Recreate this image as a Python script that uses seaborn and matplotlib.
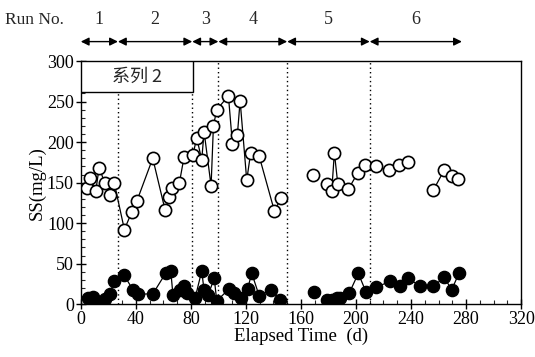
import numpy as np
import pandas as pd
import matplotlib
matplotlib.use("Agg")
import matplotlib.pyplot as plt
from matplotlib.patches import Rectangle
from matplotlib.ticker import MultipleLocator
import seaborn as sns

# ---------------- data ----------------
open_day = [4.4, 6.8, 10.9, 13.3, 17.7, 21.2, 24.4, 31.7, 37.1, 40.7, 52.3, 61.3, 64.4, 66.6,
            71.7, 75.1, 81.4, 84.3, 87.9, 89.6, 94.7, 96.4, 98.8, 107.3, 110.2, 113.8, 115.8,
            120.6, 123.5, 129.6, 140.7, 145.6,
            169.0,
            178.8, 182.4, 184.3, 186.8, 194.5, 201.3, 206.6, 214.6, 224.0, 231.5, 238.1,
            256.3, 264.0, 269.6, 274.4]
open_ss = [143, 156, 140, 168, 149, 135, 149, 92, 114, 127, 180, 116, 132, 143,
           150, 182, 184, 205, 178, 213, 146, 220, 240, 257, 198, 209, 251,
           153, 187, 183, 115, 131,
           159,
           148, 140, 187, 148, 142, 162, 172, 170, 165, 172, 175,
           141, 165, 158, 154]
open_seg = [0] * 32 + [1] + [2] * 11 + [3] * 4

fill_day = [5.6, 9.2, 12.8, 17.7, 21.3, 23.9, 31.4, 37.8, 41.5, 52.5, 61.6, 65.4, 67.0,
            71.8, 75.2, 77.4, 83.0, 87.9, 89.6, 92.5, 97.0, 98.8, 107.9, 111.5, 116.5,
            121.2, 124.3, 129.7, 138.4, 145.0,
            169.8,
            178.8, 182.4, 186.0, 188.4, 195.2, 201.7, 207.3, 214.6, 224.8, 232.0, 238.1, 246.6,
            256.3, 264.0, 269.6, 275.1]
fill_ss = [7, 9, 3, 6, 13, 28, 36, 18, 12, 13, 38, 41, 11,
           18, 22, 14, 7, 41, 17, 11, 32, 4, 19, 14, 8,
           19, 38, 10, 18, 5,
           15,
           5, 5, 7, 8, 14, 38, 15, 21, 28, 23, 32, 22,
           22, 33, 18, 39]
fill_seg = [0] * 30 + [1] + [2] * 12 + [3] * 4

run_labels = ["1", "2", "3", "4", "5", "6"]
run_bounds = [0, 27, 81, 100, 150, 210, 277]
box_label = "系列 2"

x_ticks = [0, 40, 80, 120, 160, 200, 240, 280, 320]
y_ticks = [0, 50, 100, 150, 200, 250, 300]

# ---------------- style ----------------
sns.set_theme(style="ticks")
plt.rcParams["font.family"] = ["Liberation Serif", "Noto Sans CJK SC", "DejaVu Sans"]
plt.rcParams["axes.linewidth"] = 1.0

df_open = pd.DataFrame({"day": open_day, "ss": open_ss, "seg": open_seg})
df_fill = pd.DataFrame({"day": fill_day, "ss": fill_ss, "seg": fill_seg})

fig, ax = plt.subplots(figsize=(5.35, 3.57), dpi=100)
fig.subplots_adjust(left=0.151, right=0.974, bottom=0.148, top=0.829)

# run boundaries (dotted)
for b in run_bounds[1:-1]:
    ax.axvline(b, color="black", linestyle=(0, (1, 2.2)), linewidth=1.0, zorder=1)

sns.lineplot(data=df_fill, x="day", y="ss", units="seg", estimator=None, ax=ax,
             color="black", linewidth=0.9, marker="o", markersize=8.8,
             markerfacecolor="black", markeredgecolor="black", markeredgewidth=1.0,
             legend=False, zorder=3)
sns.lineplot(data=df_open, x="day", y="ss", units="seg", estimator=None, ax=ax,
             color="black", linewidth=0.9, marker="o", markersize=8.8,
             markerfacecolor="white", markeredgecolor="black", markeredgewidth=1.2,
             legend=False, zorder=4)

ax.set_xlim(0, 320)
ax.set_ylim(0, 300)
ax.set_xticks(x_ticks)
ax.set_yticks(y_ticks)
ax.xaxis.set_minor_locator(MultipleLocator(10))
ax.yaxis.set_minor_locator(MultipleLocator(10))
ax.tick_params(which="major", direction="inout", length=7, width=1.0, labelsize=13,
               colors="black", pad=1.5)
ax.tick_params(which="minor", direction="in", length=3, width=0.8)
for s in ax.spines.values():
    s.set_color("black")
    s.set_linewidth(1.0)

ax.set_xlabel("Elapsed Time  (d)", fontsize=13.5, labelpad=0, color="black")
ax.set_ylabel("SS(mg/L)", fontsize=13.5, labelpad=1, color="black")

# label box
rect = Rectangle((0, 262), 81.6, 38, facecolor="white", edgecolor="black",
                 linewidth=1.0, zorder=5)
ax.add_patch(rect)
ax.text(40.8, 281, box_label, ha="center", va="center", fontsize=13, zorder=6,
        family=["Noto Sans CJK SC", "Liberation Serif"])

# run arrows above the axes
trans = ax.get_xaxis_transform()
for i, lab in enumerate(run_labels):
    x0, x1 = run_bounds[i], run_bounds[i + 1]
    ax.annotate("", xy=(x1, 1.08), xytext=(x0, 1.08), xycoords=trans, textcoords=trans,
                arrowprops=dict(arrowstyle="<|-|>", color="black", lw=1.0,
                                mutation_scale=12, shrinkA=0, shrinkB=0),
                annotation_clip=False)
    ax.text((x0 + x1) / 2, 1.17, lab, transform=trans, ha="center", va="center",
            fontsize=13, clip_on=False)
fig.text(0.064, 0.944, "Run No.", ha="center", va="center", fontsize=12.5)

fig.savefig("out.png", dpi=100, facecolor="white")
